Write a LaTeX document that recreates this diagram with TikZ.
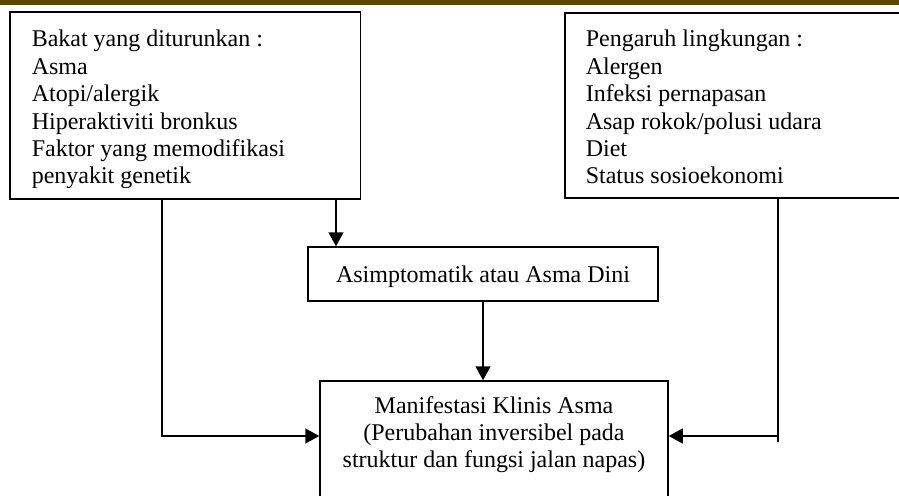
\documentclass[tikz,border=0pt]{standalone}
\usepackage{fontspec}
\setmainfont{Liberation Serif}
\usetikzlibrary{arrows.meta}
\definecolor{barbrown}{RGB}{94,72,0}
\begin{document}
\begin{tikzpicture}[x=1pt,y=-1pt,
  box/.style={draw, line width=1.5pt, rectangle, inner sep=0pt},
  conn/.style={line width=1.5pt},
  arr/.style={conn, -{Triangle[width=15pt,length=14pt]}},
  font=\fontsize{24}{27.4}\selectfont]
\useasboundingbox (0,0) rectangle (899,495);
\fill[barbrown] (0,0) rectangle (899,5);

\begin{scope}
\clip (0,0) rectangle (899,187.5);
\node[box, draw=none, anchor=base west, inner xsep=21pt, text height=34pt, text depth=151pt] (L) at (10,47)
 {\begin{tabular}[t]{@{}p{307pt}@{}}Bakat yang diturunkan :\\Asma\\Atopi/alergik\\Hiperaktiviti bronkus\\Faktor yang memodifikasi\\penyakit genetik\end{tabular}};
\end{scope}
\draw[line width=1.5pt] (L.north west) rectangle (L.south east);

\node[box, anchor=base west, inner xsep=21pt, text height=34pt, text depth=151pt] (R) at (564,47)
 {\begin{tabular}[t]{@{}p{330pt}@{}}Pengaruh lingkungan :\\Alergen\\Infeksi pernapasan\\Asap rokok/polusi udara\\Diet\\Status sosioekonomi\end{tabular}};

\node[box, minimum width=350pt, minimum height=54pt, text height=20pt, text depth=4pt] (A) at (483,274)
 {Asimptomatik atau Asma Dini};

\node[box, anchor=base, minimum width=348pt, text height=32pt, text depth=110pt] (M) at (494,413)
 {\begin{tabular}[t]{@{}c@{}}Manifestasi Klinis Asma\\(Perubahan inversibel pada\\struktur dan fungsi jalan napas)\end{tabular}};

\coordinate (a1) at (336,0);
\coordinate (lc) at (162,436);
\coordinate (rc) at (778,436);
\draw[arr] (L.south -| a1) -- (A.north -| a1);
\draw[arr] (A.south) -- (A.south |- M.north);
\draw[arr] (L.south -| lc) |- (M.west |- lc);
\draw[conn] (R.south -| rc) -- ([yshift=-6pt]rc);
\draw[arr] (rc) -- (M.east |- rc);
\end{tikzpicture}
\end{document}
